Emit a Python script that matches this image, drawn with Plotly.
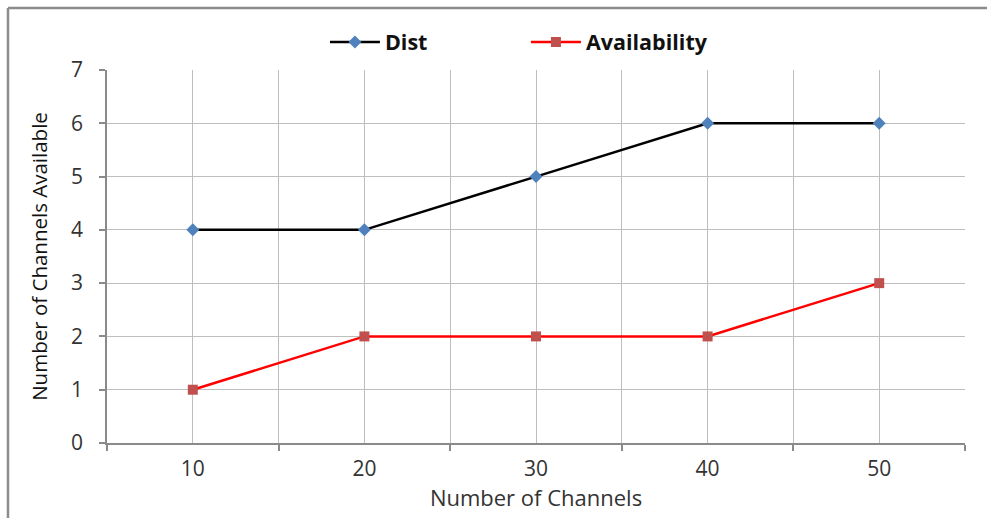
import plotly.graph_objects as go

# Channel counts and the number of channels each scheme finds available
channels = [10, 20, 30, 40, 50]
dist = [4, 4, 5, 6, 6]
availability = [1, 2, 2, 2, 3]
y_ticks = [0, 1, 2, 3, 4, 5, 6, 7]

FONT = "Open Sans"
GRID = "#BEBEBE"
AXIS = "#8A8A8A"
FRAME = "#8C8C8C"

fig = go.Figure()
fig.add_trace(go.Scatter(
    x=channels, y=dist, name="Dist", mode="lines+markers",
    line=dict(color="#000000", width=2.5),
    marker=dict(symbol="diamond", size=10, color="#4F81BD"),
))
fig.add_trace(go.Scatter(
    x=channels, y=availability, name="Availability", mode="lines+markers",
    line=dict(color="#FF0000", width=2.5),
    marker=dict(symbol="square", size=10, color="#C0504D"),
))

# chart frame: left and top edges of the outer border
frame_left, frame_top = -0.1154, 1.1662
frame = [
    dict(type="line", xref="paper", yref="paper",
         x0=frame_left, x1=frame_left, y0=-0.5, y1=frame_top,
         line=dict(color=FRAME, width=2.5), layer="below"),
    dict(type="line", xref="paper", yref="paper",
         x0=frame_left, x1=1.6, y0=frame_top, y1=frame_top,
         line=dict(color=FRAME, width=2.5), layer="below"),
]

fig.update_layout(
    width=987, height=518,
    margin=dict(l=107, r=22, t=70, b=75, autoexpand=False),
    paper_bgcolor="white", plot_bgcolor="white",
    font=dict(family=FONT, color="#222222"),
    showlegend=True,
    legend=dict(
        orientation="h", x=0.254, xanchor="left", y=1.075, yanchor="middle",
        bgcolor="rgba(0,0,0,0)",
        font=dict(family=FONT, size=21.5, color="#111111", weight="bold"),
        itemwidth=50, entrywidthmode="pixels", entrywidth=136,
    ),
    xaxis=dict(
        range=[5, 55], tickmode="array", tickvals=channels,
        ticktext=[str(c) for c in channels], ticks="",
        showgrid=True, gridcolor=GRID, gridwidth=1,
        showline=True, linecolor=AXIS, linewidth=1.5,
        zeroline=False,
        tickfont=dict(family=FONT, size=21, color="#333333"),
        ticklabelstandoff=6,
        minor=dict(tickmode="linear", tick0=5, dtick=10, ticks="outside",
                   ticklen=6, tickcolor=AXIS, tickwidth=1.5,
                   showgrid=True, gridcolor=GRID, gridwidth=1),
        title=dict(text="Number of Channels", standoff=8,
                   font=dict(family=FONT, size=22, color="#333333")),
    ),
    yaxis=dict(
        range=[0, 7], tickmode="array", tickvals=y_ticks,
        ticks="outside", ticklen=6, tickcolor=AXIS, tickwidth=1.5,
        showgrid=True, gridcolor=GRID, gridwidth=1,
        showline=True, linecolor=AXIS, linewidth=1.5,
        zeroline=False,
        tickfont=dict(family=FONT, size=21, color="#333333"),
        ticklabelstandoff=12,
        title=dict(text="Number of Channels Available", standoff=18,
                   font=dict(family=FONT, size=20.5, color="#111111")),
    ),
    shapes=frame,
)

fig.write_html("out.html")
